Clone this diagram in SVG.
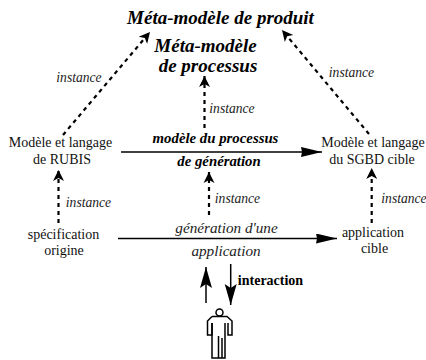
<svg xmlns="http://www.w3.org/2000/svg" width="426" height="360" viewBox="0 0 426 360">
<defs>
<marker id="a" markerUnits="userSpaceOnUse" markerWidth="12" markerHeight="12" refX="11" refY="6" orient="auto"><path d="M0 0.5L11 6L0 11.5L3 6Z" fill="#000"/></marker>
<marker id="b" markerUnits="userSpaceOnUse" markerWidth="22" markerHeight="10" refX="21" refY="5" orient="auto"><path d="M0 0L21 5L0 10L1 5Z" fill="#000"/></marker>
<marker id="c" markerUnits="userSpaceOnUse" markerWidth="22" markerHeight="13" refX="21" refY="6.5" orient="auto"><path d="M0 0.5L21 6.5L0 12.5L4 6.5Z" fill="#000"/></marker>
</defs>
<style>
text{text-anchor:middle;fill:#000}
.r{font:14px "Liberation Serif",serif;fill:#111}
.i{font:italic 13.6px "Liberation Serif",serif;fill:#222}
.g{font:italic 15.2px "Liberation Serif",serif;fill:#222}
.b{font:italic bold 19px "Liberation Serif",serif}
.m{font:italic bold 14.8px "Liberation Serif",serif}
.d{fill:none;stroke:#000;stroke-width:2.2;stroke-dasharray:4 4}
.s{fill:none;stroke:#000;stroke-width:1.5}
</style>
<g id="connectors">
<path class="d" d="M63 135L150 32" marker-end="url(#a)"/>
<path class="d" d="M369 134L282 30" marker-end="url(#a)"/>
<path class="d" d="M204.500 128V76" marker-end="url(#a)"/>
<path class="d" d="M209 215V172" marker-end="url(#a)"/>
<path class="d" d="M58.500 223V170" marker-end="url(#a)"/>
<path class="d" d="M371.700 223V168" marker-end="url(#a)"/>
<path class="s" d="M121 152H322" marker-end="url(#b)"/>
<path class="s" d="M118 238.500H337" marker-end="url(#b)"/>
<path class="s" d="M206 303V267" marker-end="url(#c)"/>
<path class="s" d="M230.700 264V305" marker-end="url(#c)"/>
</g>
<g id="n1"><text class="b" x="220.500" y="24">Méta-modèle de produit</text></g>
<g id="n2"><text class="b" x="205.500" y="52">Méta-modèle</text><text class="b" x="208" y="72">de processus</text></g>
<g id="n3"><text class="r" x="60.500" y="147">Modèle et langage</text><text class="r" x="62" y="164">de RUBIS</text></g>
<g id="n4"><text class="r" x="373" y="147">Modèle et langage</text><text class="r" x="372" y="164">du SGBD cible</text></g>
<g id="n5"><text class="m" x="215.500" y="143">modèle du processus</text><text class="m" x="219" y="166">de génération</text></g>
<g id="n6"><text class="r" x="63.500" y="239">spécification</text><text class="r" x="64" y="255">origine</text></g>
<g id="n7"><text class="g" x="226.500" y="233">génération d'une</text><text class="g" x="226" y="256">application</text></g>
<g id="n8"><text class="r" x="373" y="237">application</text><text class="r" x="374.500" y="253">cible</text></g>
<g id="labels">
<text class="i" x="79" y="82">instance</text>
<text class="i" x="351.500" y="77">instance</text>
<text class="i" x="232" y="113">instance</text>
<text class="i" x="237.500" y="203">instance</text>
<text class="i" x="88.500" y="207">instance</text>
<text class="i" x="404" y="203">instance</text>
<text x="270.500" y="285" style="font:bold 14px 'Liberation Serif',serif">interaction</text>
</g>
<g id="person" fill="#fff" stroke="#000" stroke-width="1.500">
<circle cx="219.500" cy="312.500" r="3.500"/>
<path d="M212 316.500H227L232 321V335H228V323M212 323V335H207.500V321L212 316.500"/>
<path d="M212 323V358H225V323M218.500 336V358M222 338V358" fill="none"/>
</g>
</svg>
